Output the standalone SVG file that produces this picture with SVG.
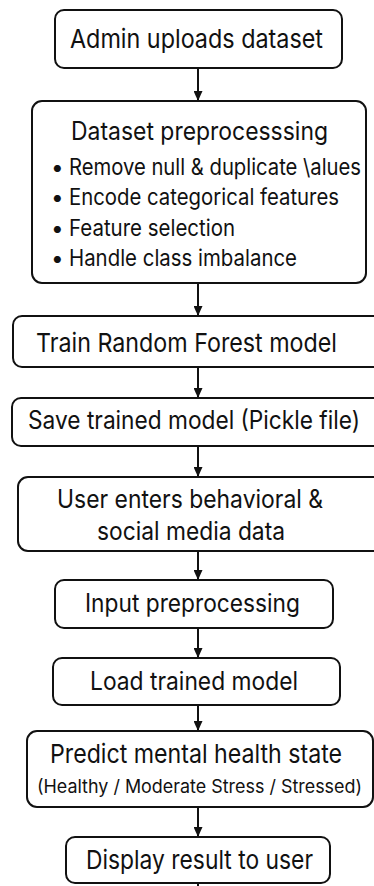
<svg xmlns="http://www.w3.org/2000/svg" width="374" height="886" viewBox="0 0 374 886">
  <defs>
    <marker id="arrow" viewBox="0 0 10 10" refX="10" refY="5" markerWidth="10" markerHeight="9" markerUnits="userSpaceOnUse" orient="auto" preserveAspectRatio="none">
      <path d="M0,0 L10,5 L0,10 Z" fill="#111"/>
    </marker>
    <style>
      .box { fill: #fff; stroke: #111; stroke-width: 2; }
      .t { font-family: Inter, "Liberation Sans", sans-serif; fill: #111; font-size: 26px; }
      .m { font-size: 25px; }
      .b { font-size: 22.5px; }
      .s { font-size: 18.5px; }
      .edge { stroke: #111; stroke-width: 2; fill: none; }
    </style>
  </defs>
  <rect width="374" height="886" fill="#fff"/>

  <g id="connectors">
    <line class="edge" x1="198" y1="68" x2="198" y2="101" marker-end="url(#arrow)"/>
    <line class="edge" x1="198" y1="283" x2="198" y2="316" marker-end="url(#arrow)"/>
    <line class="edge" x1="198" y1="367" x2="198" y2="398" marker-end="url(#arrow)"/>
    <line class="edge" x1="198" y1="446" x2="198" y2="477" marker-end="url(#arrow)"/>
    <line class="edge" x1="198" y1="551" x2="198" y2="580" marker-end="url(#arrow)"/>
    <line class="edge" x1="198" y1="628" x2="198" y2="658" marker-end="url(#arrow)"/>
    <line class="edge" x1="198" y1="705" x2="198" y2="731" marker-end="url(#arrow)"/>
    <line class="edge" x1="198" y1="807" x2="198" y2="837" marker-end="url(#arrow)"/>
    <line class="edge" x1="198" y1="883" x2="198" y2="886"/>
  </g>

  <g id="upload">
    <rect class="box" x="55" y="10" width="287" height="58" rx="9"/>
    <text class="t" x="70" y="48" textLength="253" lengthAdjust="spacingAndGlyphs">Admin uploads dataset</text>
  </g>

  <g id="preprocess">
    <rect class="box" x="32" y="101" width="334" height="182" rx="10"/>
    <text class="t m" x="71" y="140" textLength="257" lengthAdjust="spacingAndGlyphs">Dataset preprocesssing</text>
    <text class="t b" x="51" y="175">•</text>
    <text class="t b" transform="translate(69,175) scale(0.78,1)" textLength="374.4" lengthAdjust="spacingAndGlyphs">Remove null &amp; duplicate \alues</text>
    <text class="t b" x="51" y="205">•</text>
    <text class="t b" x="69" y="205" textLength="270" lengthAdjust="spacingAndGlyphs">Encode categorical features</text>
    <text class="t b" x="51" y="236">•</text>
    <text class="t b" x="69" y="236" textLength="166" lengthAdjust="spacingAndGlyphs">Feature selection</text>
    <text class="t b" x="51" y="266">•</text>
    <text class="t b" x="69" y="266" textLength="228" lengthAdjust="spacingAndGlyphs">Handle class imbalance</text>
  </g>

  <g id="train">
    <rect class="box" x="13" y="316" width="372" height="51" rx="9"/>
    <text class="t" x="36" y="352" textLength="301" lengthAdjust="spacingAndGlyphs">Train Random Forest model</text>
  </g>

  <g id="save">
    <rect class="box" x="12" y="398" width="373" height="48" rx="9"/>
    <text class="t m" transform="translate(28,429) scale(0.75,1)" textLength="442.7" lengthAdjust="spacingAndGlyphs">Save trained model (Pickle file)</text>
  </g>

  <g id="user-input">
    <rect class="box" x="18" y="477" width="367" height="74" rx="10"/>
    <text class="t m" x="57" y="508" textLength="266" lengthAdjust="spacingAndGlyphs">User enters behavioral &amp;</text>
    <text class="t m" x="97" y="540" textLength="188" lengthAdjust="spacingAndGlyphs">social media data</text>
  </g>

  <g id="input-preprocess">
    <rect class="box" x="55" y="580" width="278" height="48" rx="9"/>
    <text class="t m" x="85" y="612" textLength="215" lengthAdjust="spacingAndGlyphs">Input preprocessing</text>
  </g>

  <g id="load">
    <rect class="box" x="53" y="658" width="287" height="47" rx="9"/>
    <text class="t m" x="90" y="690" textLength="208" lengthAdjust="spacingAndGlyphs">Load trained model</text>
  </g>

  <g id="predict">
    <rect class="box" x="27" y="731" width="346" height="76" rx="10"/>
    <text class="t" transform="translate(50,763) scale(0.78,1)" textLength="374.4" lengthAdjust="spacingAndGlyphs">Predict mental health state</text>
    <text class="t s" x="37" y="793" textLength="325" lengthAdjust="spacingAndGlyphs">(Healthy / Moderate Stress / Stressed)</text>
  </g>

  <g id="display">
    <rect class="box" x="66" y="837" width="264" height="46" rx="9"/>
    <text class="t" x="86" y="869" textLength="227" lengthAdjust="spacingAndGlyphs">Display result to user</text>
  </g>
</svg>
